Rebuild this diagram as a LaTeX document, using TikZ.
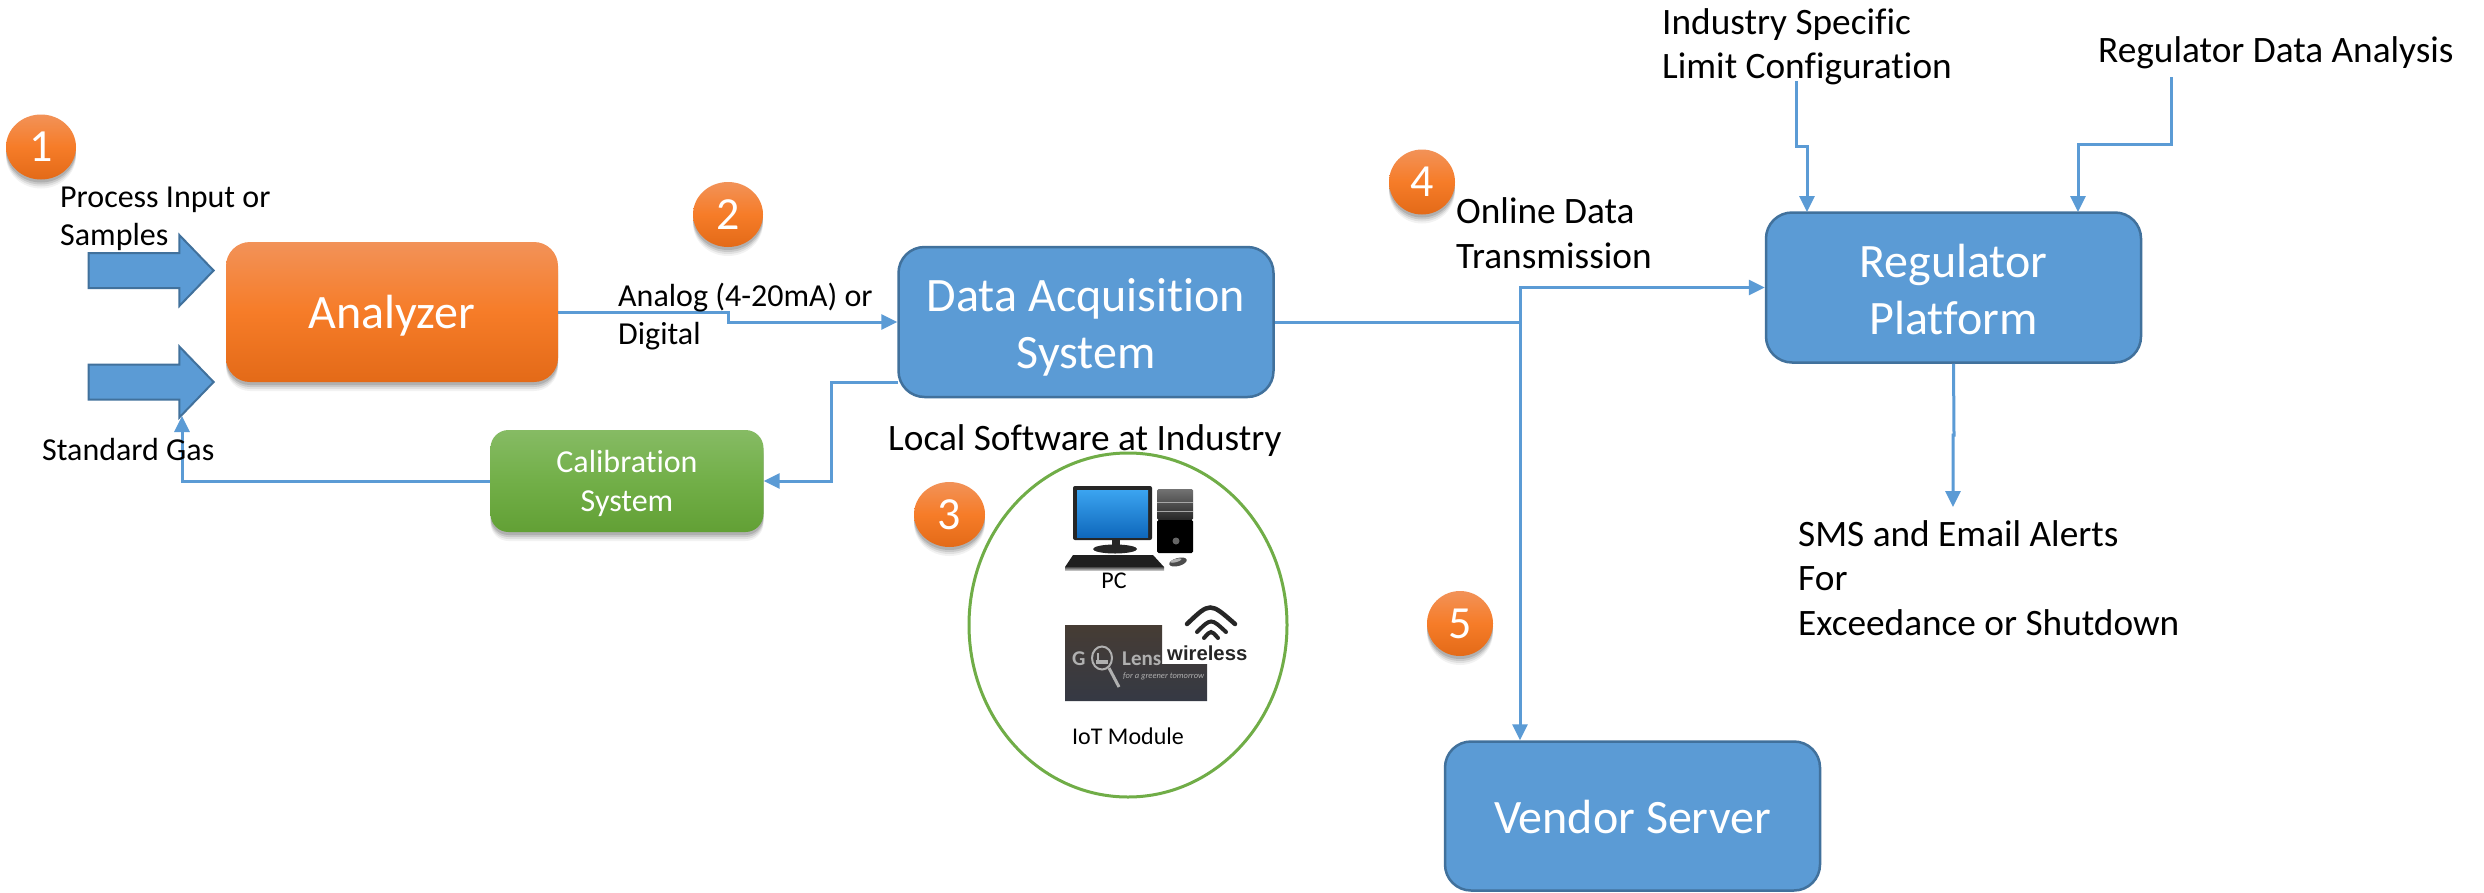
\documentclass[tikz,border=0pt]{standalone}
\usepackage{fontspec}
\setmainfont[Ligatures=NoCommon]{Carlito}
\newfontfamily\wirelessfont{Liberation Sans}
\usetikzlibrary{arrows.meta,shapes.geometric,shapes.arrows,shadows,calc}
\definecolor{blueF}{HTML}{5B9BD5}
\definecolor{blueD}{HTML}{41719C}
\definecolor{orT}{HTML}{F29258}
\definecolor{orM}{HTML}{F67C28}
\definecolor{orB}{HTML}{E36A18}
\definecolor{grT}{HTML}{86BB64}
\definecolor{grM}{HTML}{72AF48}
\definecolor{grB}{HTML}{62A035}
\definecolor{ringG}{HTML}{70AD47}
\definecolor{logoG}{HTML}{B0B0B0}
\definecolor{logoT}{HTML}{463C34}
\definecolor{logoB}{HTML}{353944}
\definecolor{scrT}{HTML}{3BA4F0}
\definecolor{scrB}{HTML}{0F68BC}
\newcommand{\fs}[2]{\fontsize{#1}{#2}\selectfont}
\newcommand{\tstrut}[1]{\rule{0pt}{#1pt}}
\tikzset{
  softshadow/.style={
    general shadow={fill=black,opacity=.05,shadow yshift=-9pt,shadow xshift=0pt},
    general shadow={fill=black,opacity=.07,shadow yshift=-7pt,shadow xshift=0pt},
    general shadow={fill=black,opacity=.10,shadow yshift=-5pt,shadow xshift=0pt},
    general shadow={fill=black,opacity=.12,shadow yshift=-3pt,shadow xshift=0pt}},
  bluebox/.style={draw=blueD,line width=2.5pt,fill=blueF,rounded corners=26pt,align=center,text=white,inner sep=0pt,font=\fs{48}{57}},
  orangebox/.style={rounded corners=24pt,top color=orT,bottom color=orB,middle color=orM,align=center,text=white,inner sep=0pt,font=\fs{48}{57},softshadow},
  greenbox/.style={rounded corners=18pt,top color=grT,bottom color=grB,middle color=grM,align=center,text=white,inner sep=0pt,font=\fs{32}{38.5},softshadow},
  badge/.style={ellipse,inner sep=0pt,top color=orT,bottom color=orB,middle color=orM,text=white,font=\fs{46}{50},softshadow},
  blockarrow/.style={single arrow,anchor=tip,draw=blueD,line width=2pt,fill=blueF,inner sep=0pt,inner ysep=16.5pt,minimum height=125pt,single arrow head extend=18pt,single arrow head indent=0pt,single arrow tip angle=92},
  link/.style={draw=blueF,line width=3pt},
  arr/.style={link,-{Triangle[length=16pt,width=15pt]}},
  lab/.style={anchor=base west,inner sep=0pt,align=left,text=black},
  labs/.style={lab,font=\fs{32}{38.5}},
  labm/.style={lab,font=\fs{37.3}{44.5}},
  labx/.style={anchor=base,inner sep=0pt,font=\fs{24}{28},text=black},
}
\begin{document}
\begin{tikzpicture}[x=1pt,y=-1pt]
\useasboundingbox (0,0) rectangle (2484,892);
\fill[white] (0,0) rectangle (2484,892);

% boxes
\node[orangebox,minimum width=332pt,minimum height=140pt] (ana) at (392,312) {\tstrut{40}Analyzer};
\node[bluebox,minimum width=375pt,minimum height=150pt] (das) at (1086,322) {\tstrut{43}Data Acquisition\\System};
\node[greenbox,minimum width=273pt,minimum height=102pt] (cal) at (627,481) {\tstrut{27}Calibration\\System};
\node[bluebox,minimum width=375pt,minimum height=150pt] (reg) at (1953.5,287.5) {\tstrut{38}Regulator\\Platform};
\node[bluebox,minimum width=375pt,minimum height=149pt] (ven) at (1632.5,816) {\tstrut{36}Vendor Server};

% block arrows
\node[blockarrow] (inA) at (215,270.5) {};
\node[blockarrow] (inB) at (215,382) {};

% free ends and bends
\coordinate (gasTip) at (182,416);
\coordinate (dasOut) at (898,382);
\coordinate (jct) at (1520,322);
\coordinate (limEnd) at (1796,81);
\coordinate (rdaEnd) at (2171,77);
\coordinate (smsEnd) at (1953,507);

% connectors
\draw[arr] (ana.east) -- (728,312) -- (728,322) -- (das.west);
\draw[arr] (dasOut) -- (831,382) -- (831,481) -- (cal.east);
\draw[arr] (cal.west) -| (gasTip);
\draw[link] (das.east) -- (jct);
\draw[arr] (jct) |- (reg.west);
\draw[arr] (jct) -- (jct |- ven.north);
\draw[arr] (limEnd) -- (1796,146) -- (1807,146) -- (1807,212);
\draw[arr] (rdaEnd) -- (2171,144) -- (2078,144) -- (2078,212);
\draw[arr] (reg.south) -- (1954,435) -- (1953,435) -- (smsEnd);

% badges
\node[badge,minimum width=70pt,minimum height=65pt] (b1) at (41,147) {1};
\node[badge,minimum width=70pt,minimum height=65pt] (b2) at (728,214.5) {2};
\node[badge,minimum width=71pt,minimum height=65pt] (b3) at (949.5,514.5) {3};
\node[badge,minimum width=66pt,minimum height=65pt] (b4) at (1422,182) {4};
\node[badge,minimum width=66pt,minimum height=65pt] (b5) at (1460,623.5) {5};

% labels (base = last line)
\node[labs] (t1) at (60,245.5) {Process Input or\\Samples};
\node[labs] (t2) at (42,460.5) {Standard Gas};
\node[labs] (t3) at (618,344.5) {Analog (4-20mA) or\\Digital};
\node[labm] (t4) at (888,450.5) {Local Software at Industry};
\node[labm] (t5) at (1456,268) {Online Data\\Transmission};
\node[labm] (t6) at (1662,78.5) {Industry Specific\\Limit Configuration};
\node[labm] (t7) at (2098,62) {Regulator Data Analysis};
\node[labm] (t8) at (1798,635) {SMS and Email Alerts\\For\\Exceedance or Shutdown};

% ring
\node[ellipse,draw=ringG,line width=3pt,minimum width=318pt,minimum height=344pt,inner sep=0pt] (ring) at (1128,625) {};

% PC picture
\fill[black!85,rounded corners=2pt] (1073,486) rectangle (1152,540);
\shade[top color=scrT,bottom color=scrB] (1077,490) rectangle (1148,537);
\fill[black!85] (1112,540) rectangle (1120,546);
\fill[black!85] (1115,549) ellipse [x radius=22,y radius=4.5];
\fill[black!88] (1073,555) -- (1153,555) -- (1164,567) -- (1065,567) -- cycle;
\shade[top color=black!70,bottom color=black!25] (1065,567) rectangle (1164,570);
\shade[top color=black!55,bottom color=black!85,rounded corners=1.5pt] (1157,489) rectangle (1193,520);
\fill[black,rounded corners=1.5pt] (1157,520) rectangle (1193,553);
\draw[black!35,line width=.8pt] (1157,502) -- (1193,502) (1157,511) -- (1193,511);
\fill[black!60] (1176,541) circle (3.5);
\fill[black!70,rotate around={15:(1178,562)}] (1178,562) ellipse [x radius=9,y radius=4];
\fill[white!70!black,rotate around={15:(1178,561)}] (1176,560) ellipse [x radius=6,y radius=1.6];
\node[labx] (pc) at (1114,588) {PC};

% logo picture
\shade[top color=logoT,bottom color=logoB] (1065,625) -- (1162,625) -- (1162,664) -- (1207,664) -- (1207,701) -- (1065,701) -- cycle;
\node[anchor=base west,inner sep=0pt,text=logoG,font=\fs{21}{22}\bfseries] (logoGl) at (1072,665) {G};
\draw[logoG,line width=2pt] (1102,658) ellipse [x radius=10,y radius=11.5];
\draw[logoG,line width=3pt] (1109,668) -- (1119,687);
\fill[logoG] (1096,660) rectangle (1108,664);
\fill[logoG] (1097,653) rectangle (1099,660);
\node[anchor=base west,inner sep=0pt,text=logoG,font=\fs{21}{22}\bfseries] (logoL) at (1122,665) {Lens};
\node[anchor=base west,inner sep=0pt,text=logoG,font=\fs{8.5}{9}\itshape] (logoS) at (1123,678) {for a greener tomorrow};
\draw[black!85,line width=4.5pt,line cap=round] (1187,624) .. controls (1210,602) .. (1235,624);
\draw[black!85,line width=4pt,line cap=round] (1197,632) .. controls (1211,618) .. (1226,632);
\draw[black!85,line width=4pt,line cap=round] (1204,638) .. controls (1211,630) .. (1218,638);
\node[anchor=base west,inner sep=0pt,text=black!85,font={\wirelessfont\bfseries\fs{20.3}{22}}] (wl) at (1167,660) {wireless};
\node[labx] (iot) at (1128,744) {IoT Module};
\end{tikzpicture}
\end{document}
